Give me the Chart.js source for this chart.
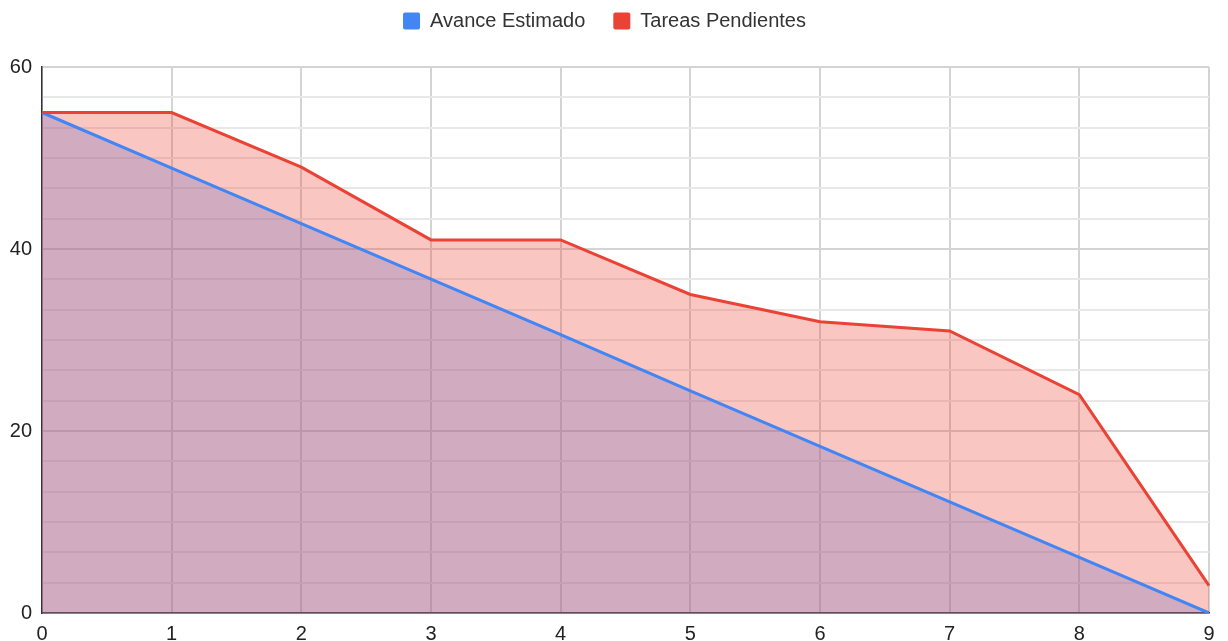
<!DOCTYPE html>
<html>
<head>
<meta charset="utf-8">
<script src="https://cdn.jsdelivr.net/npm/chart.js@4"></script>
<style>
  html, body { margin: 0; padding: 0; background: #fff; }
  #wrap { width: 1228px; height: 641px; }
</style>
</head>
<body>
<div id="wrap"><canvas id="chart"></canvas></div>
<script>
// Data
const dias = ['0', '1', '2', '3', '4', '5', '6', '7', '8', '9'];
const avanceEstimado = [55, 48.9, 42.8, 36.7, 30.6, 24.4, 18.3, 12.2, 6.1, 0];
const tareasPendientes = [55, 55, 49, 41, 41, 35, 32, 31, 24, 3];

const fontFamily = 'Arial, "Liberation Sans", sans-serif';

// Is this y value a labelled (major) tick?
function isMajor(v) {
    return Math.abs(v / 20 - Math.round(v / 20)) < 0.001;
}

// Make the legend take up the space above the plot
const legendHeight = {
    id: 'legendHeight',
    beforeLayout(chart) {
        const legend = chart.legend;
        if (legend && !legend._patched) {
            const fit = legend.fit;
            legend.fit = function() {
                fit.call(this);
                this.height = 67 + 17; // padding top is -17
            };
            legend._patched = true;
        }
    }
};

const ctx = document.getElementById('chart').getContext('2d');
new Chart(ctx, {
    type: 'line',
    data: {
        labels: dias,
        datasets: [{
            label: 'Avance Estimado',
            data: avanceEstimado,
            borderColor: '#4285F4',
            backgroundColor: 'rgba(66, 133, 244, 0.3)',
            borderWidth: 3,
            fill: 'origin',
            pointRadius: 0,
            tension: 0,
            order: 2
        }, {
            label: 'Tareas Pendientes',
            data: tareasPendientes,
            borderColor: '#EA4335',
            backgroundColor: 'rgba(234, 67, 53, 0.3)',
            borderWidth: 3,
            fill: 'origin',
            pointRadius: 0,
            tension: 0,
            order: 1
        }]
    },
    options: {
        responsive: true,
        maintainAspectRatio: false,
        animation: false,
        layout: { padding: { top: -17, right: 19, bottom: 0, left: 0 } },
        plugins: {
            tooltip: { enabled: false },
            filler: { drawTime: 'beforeDatasetsDraw' },
            legend: {
                position: 'top',
                labels: {
                    boxWidth: 17,
                    boxHeight: 17,
                    padding: 28,
                    color: '#333',
                    font: { family: fontFamily, size: 20 },
                    sort: (a, b) => a.datasetIndex - b.datasetIndex,
                    generateLabels(chart) {
                        return chart.data.datasets.map((ds, i) => ({
                            text: ds.label,
                            fillStyle: ds.borderColor,
                            strokeStyle: ds.borderColor,
                            lineWidth: 0,
                            borderRadius: 2,
                            fontColor: '#333',
                            datasetIndex: i,
                            hidden: false
                        }));
                    }
                }
            }
        },
        scales: {
            x: {
                type: 'category',
                offset: false,
                grid: { color: '#d4d4d4', drawTicks: false, lineWidth: 2 },
                border: { color: '#333', width: 1.5 },
                ticks: {
                    padding: 9,
                    color: '#222',
                    maxRotation: 0,
                    font: { family: fontFamily, size: 20 }
                },
                afterFit(scale) { scale.height = 28; }
            },
            y: {
                min: 0,
                max: 60,
                grid: {
                    drawTicks: false,
                    color: c => isMajor(c.tick.value) ? '#d4d4d4' : '#e8e8e8',
                    lineWidth: 2
                },
                border: { color: '#333', width: 1.5 },
                ticks: {
                    stepSize: 10 / 3,
                    autoSkip: false,
                    padding: 10,
                    color: '#222',
                    font: { family: fontFamily, size: 20 },
                    callback: v => isMajor(v) ? String(Math.round(v)) : ''
                },
                afterFit(scale) { scale.width = 42; }
            }
        }
    },
    plugins: [legendHeight]
});
</script>
</body>
</html>
